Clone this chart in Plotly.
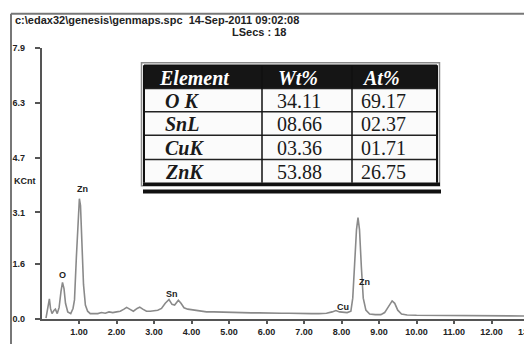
import plotly.graph_objects as go

# EDS spectrum: energy (keV) vs counts (KCnt)
energy = [0.12, 0.17, 0.21, 0.24, 0.28, 0.33, 0.37, 0.42, 0.47, 0.52, 0.56, 0.60, 0.64, 0.70,
          0.78, 0.84, 0.88, 0.93, 0.98, 1.01, 1.04, 1.08, 1.12, 1.17, 1.23, 1.30, 1.40, 1.50,
          1.60, 1.70, 1.80, 1.90, 2.00, 2.10, 2.20, 2.27, 2.35, 2.45, 2.55, 2.62, 2.70, 2.80,
          2.90, 3.00, 3.10, 3.20, 3.30, 3.40, 3.48, 3.55, 3.65, 3.72, 3.80, 3.90, 4.00, 4.20,
          4.40, 4.60, 4.80, 5.00, 5.20, 5.40, 5.60, 5.80, 6.00, 6.20, 6.40, 6.60, 6.80, 7.00,
          7.20, 7.40, 7.60, 7.75, 7.85, 7.95, 8.05, 8.15, 8.25, 8.30, 8.35, 8.40, 8.44, 8.48,
          8.53, 8.58, 8.65, 8.75, 8.90, 9.05, 9.15, 9.25, 9.35, 9.42, 9.50, 9.60, 9.75, 10.00,
          10.50, 11.00, 11.50, 12.00, 12.50, 12.90]
kcnt = [0.02, 0.30, 0.58, 0.30, 0.15, 0.24, 0.28, 0.15, 0.33, 0.80, 1.06, 0.88, 0.45, 0.20,
        0.15, 0.30, 0.55, 1.80, 3.20, 3.50, 3.30, 2.20, 1.00, 0.40, 0.22, 0.15, 0.14, 0.15,
        0.18, 0.16, 0.20, 0.18, 0.20, 0.22, 0.28, 0.33, 0.28, 0.22, 0.30, 0.34, 0.28, 0.22,
        0.22, 0.24, 0.25, 0.30, 0.45, 0.56, 0.42, 0.40, 0.54, 0.45, 0.32, 0.28, 0.26, 0.22,
        0.20, 0.20, 0.19, 0.18, 0.19, 0.18, 0.17, 0.17, 0.16, 0.17, 0.16, 0.16, 0.15, 0.16,
        0.15, 0.15, 0.16, 0.20, 0.24, 0.20, 0.18, 0.18, 0.22, 0.60, 1.60, 2.60, 2.95, 2.60,
        1.50, 0.60, 0.25, 0.14, 0.12, 0.12, 0.18, 0.35, 0.52, 0.45, 0.25, 0.14, 0.11, 0.10,
        0.10, 0.09, 0.09, 0.08, 0.08, 0.08]

# Peak identification labels
peak_names = ["O", "Zn", "Sn", "Cu", "Zn"]
peak_x = [0.55, 1.08, 3.48, 8.04, 8.62]
peak_y = [1.27, 3.77, 0.71, 0.34, 1.08]

# Axis ticks
y_ticks = [0.0, 1.6, 3.1, 4.7, 6.3, 7.9]
y_tick_text = ["0.0", "1.6", "3.1", "4.7", "6.3", "7.9"]
x_ticks = [1, 2, 3, 4, 5, 6, 7, 8, 9, 10, 11, 12]
x_tick_text = ["1.00", "2.00", "3.00", "4.00", "5.00", "6.00", "7.00", "8.00", "9.00",
               "10.00", "11.00", "12.00"]

# Quantification table
table_headers = ["Element", "Wt%", "At%"]
elements = ["O K", "SnL", "CuK", "ZnK"]
wt_pct = ["34.11", "08.66", "03.36", "53.88"]
at_pct = ["69.17", "02.37", "01.71", "26.75"]

W, H = 524, 349

# plot area geometry (pixels)
X0_PX, X_UNIT = 41.5, 37.5      # x=0 position and pixels per keV
x_max = (W - X0_PX) / X_UNIT

# table geometry (pixels)
col_edges = [144, 262, 352, 437]
row_edges = [62, 86, 110, 134, 159, 183]
text_x = [[157, 276, 360], [163, 275, 359]]   # header / body text left edges


def px(x):
    return x / W


def py(y):
    return 1 - y / H


fig = go.Figure()

fig.add_trace(go.Scatter(
    x=energy, y=kcnt, mode="lines",
    line=dict(color="#8a8a8a", width=1.6),
    hoverinfo="skip", showlegend=False,
))

sans_bold = dict(family="Liberation Sans, Arial", color="#222", weight="bold")
serif = "Liberation Serif, Times New Roman, serif"

annotations = []
for name, xv, yv in zip(peak_names, peak_x, peak_y):
    annotations.append(dict(
        x=xv, y=yv, xref="x", yref="y", text=name, showarrow=False,
        font=dict(size=9, **sans_bold),
    ))

annotations += [
    dict(x=px(13), y=py(15), xref="paper", yref="paper", xanchor="left", yanchor="middle",
         text="c:\\edax32\\genesis\\genmaps.spc  14-Sep-2011 09:02:08", showarrow=False,
         font=dict(size=11, **sans_bold)),
    dict(x=px(288), y=py(28), xref="paper", yref="paper", xanchor="right", yanchor="middle",
         text="LSecs : 18", showarrow=False, font=dict(size=11, **sans_bold)),
    dict(x=px(12), y=py(181), xref="paper", yref="paper", xanchor="left", yanchor="middle",
         text="KCnt", showarrow=False, font=dict(size=9, **sans_bold)),
    # last tick label, partly beyond the right edge
    dict(x=px(X0_PX + 13 * X_UNIT), y=py(337), xref="paper", yref="paper",
         xanchor="center", yanchor="middle", text="13.00", showarrow=False,
         font=dict(size=9, **sans_bold)),
]

shapes = [
    # outer frame
    dict(type="line", xref="paper", yref="paper", x0=px(11), x1=1, y0=py(9), y1=py(9),
         line=dict(color="#777", width=2)),
    dict(type="line", xref="paper", yref="paper", x0=px(11), x1=px(11), y0=py(9), y1=0,
         line=dict(color="#777", width=2)),
]

# table: header band, cell backgrounds, grid lines
shapes.append(dict(type="rect", xref="paper", yref="paper", layer="above",
                   x0=px(col_edges[0]), x1=px(col_edges[-1]),
                   y0=py(row_edges[-1]), y1=py(row_edges[1]),
                   fillcolor="#fbfbfb", line=dict(width=0)))
shapes.append(dict(type="rect", xref="paper", yref="paper", layer="above",
                   x0=px(col_edges[0]), x1=px(col_edges[-1]),
                   y0=py(row_edges[1]), y1=py(row_edges[0]),
                   fillcolor="#151515", line=dict(width=0)))
for yv in row_edges[1:-1]:
    shapes.append(dict(type="line", xref="paper", yref="paper", layer="above",
                       x0=px(col_edges[0]), x1=px(col_edges[-1]), y0=py(yv), y1=py(yv),
                       line=dict(color="#222", width=1.5)))
for xv in col_edges:
    shapes.append(dict(type="line", xref="paper", yref="paper", layer="above",
                       x0=px(xv), x1=px(xv), y0=py(row_edges[-1]), y1=py(row_edges[0]),
                       line=dict(color="#111", width=2 if xv in (col_edges[0], col_edges[-1]) else 1.5)))
shapes += [
    dict(type="line", xref="paper", yref="paper", layer="above",
         x0=px(col_edges[0]), x1=px(col_edges[-1]), y0=py(row_edges[0]), y1=py(row_edges[0]),
         line=dict(color="#111", width=1.5)),
    # outer grey border
    dict(type="rect", xref="paper", yref="paper", layer="above",
         x0=px(141.5), x1=px(439.5), y0=py(186), y1=py(59.5),
         line=dict(color="#8a8a8a", width=1.5)),
    # heavy double rule under the table
    dict(type="line", xref="paper", yref="paper", layer="above",
         x0=px(143), x1=px(440), y0=py(184.5), y1=py(184.5),
         line=dict(color="#111", width=3.5)),
    dict(type="line", xref="paper", yref="paper", layer="above",
         x0=px(143), x1=px(441), y0=py(192), y1=py(192),
         line=dict(color="#111", width=4)),
]

# table text
for j, head in enumerate(table_headers):
    yc = (row_edges[0] + row_edges[1]) / 2
    annotations.append(dict(
        x=px(text_x[0][j]), y=py(yc + 1), xref="paper", yref="paper",
        xanchor="left", yanchor="middle", showarrow=False,
        text="<b><i>%s</i></b>" % head,
        font=dict(family=serif, size=20, color="white"),
    ))
for i, row in enumerate(zip(elements, wt_pct, at_pct)):
    yc = (row_edges[i + 1] + row_edges[i + 2]) / 2
    for j, val in enumerate(row):
        annotations.append(dict(
            x=px(text_x[1][j]), y=py(yc + 1), xref="paper", yref="paper",
            xanchor="left", yanchor="middle", showarrow=False,
            text="<b><i>%s</i></b>" % val if j == 0 else val,
            font=dict(family=serif, size=20, color="#1a1a1a"),
        ))

tick_font = dict(size=9, **sans_bold)
fig.update_layout(
    width=W, height=H,
    margin=dict(l=0, r=0, t=0, b=0),
    paper_bgcolor="white", plot_bgcolor="white",
    showlegend=False,
    annotations=annotations,
    shapes=shapes,
    xaxis=dict(
        domain=[px(X0_PX), 1], range=[0, x_max],
        showgrid=False, zeroline=False,
        showline=True, linecolor="#555", linewidth=1.5,
        ticks="outside", ticklen=4, tickcolor="#555", tickwidth=1.5,
        tickvals=x_ticks, ticktext=x_tick_text, tickfont=tick_font,
    ),
    yaxis=dict(
        domain=[py(323), py(44)], range=[0, 7.9],
        showgrid=False, zeroline=False,
        showline=True, linecolor="#555", linewidth=1.5,
        ticks="outside", ticklen=5, tickcolor="#555", tickwidth=1.5,
        tickvals=y_ticks, ticktext=y_tick_text, tickfont=tick_font,
        ticklabelstandoff=8,
    ),
)

fig.write_html("out.html")
